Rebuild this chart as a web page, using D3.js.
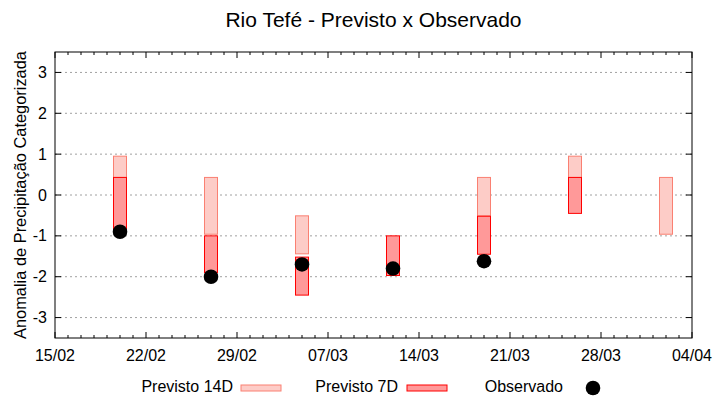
<!DOCTYPE html>
<html>
<head>
<meta charset="utf-8">
<script src="https://cdn.jsdelivr.net/npm/d3@7"></script>
<style>
  body { margin: 0; background: #fff; }
  text { font-family: "Liberation Sans", Arial, sans-serif; }
</style>
</head>
<body>
<div id="chart"></div>
<script>
// semanas com previsao / observacao
const dates = ["2024-02-20", "2024-02-27", "2024-03-05", "2024-03-12", "2024-03-19", "2024-03-26", "2024-04-02"];
const prev14Low  = [0.43, -0.96, -1.44, null, -0.51, 0.43, -0.96];
const prev14High = [0.95, 0.43, -0.51, null, 0.43, 0.95, 0.43];
const prev7Low   = [-0.9, -1.9, -2.45, -1.97, -1.45, -0.45, null];
const prev7High  = [0.43, -1.0, -1.52, -1.0, -0.52, 0.43, null];
const observed   = [-0.9, -2.0, -1.7, -1.8, -1.62, null, null];
const yTicks = [-3, -2, -1, 0, 1, 2, 3];
const xTickDates = ["2024-02-15", "2024-02-22", "2024-02-29", "2024-03-07", "2024-03-14", "2024-03-21", "2024-03-28", "2024-04-04"];

function drawChart() {
    const width = 720, height = 400;
    const margin = {top: 52, right: 28, bottom: 62, left: 55};
    const parse = d3.timeParse("%Y-%m-%d");
    const fmt = d3.timeFormat("%d/%m");

    const svg = d3.select("#chart").append("svg").attr("width", width).attr("height", height);

    const x = d3.scaleTime().domain([parse("2024-02-15"), parse("2024-04-04")]).range([margin.left, width - margin.right]);
    const y = d3.scaleLinear().domain([-3.5, 3.5]).range([height - margin.bottom, margin.top]);
    const x0 = margin.left, x1 = width - margin.right, y0 = height - margin.bottom, y1 = margin.top;

    // grid
    svg.append("g").selectAll("line").data(yTicks).join("line")
        .attr("x1", x0).attr("x2", x1).attr("y1", d => y(d)).attr("y2", d => y(d))
        .attr("stroke", "#a0a0a0").attr("stroke-dasharray", "2,3");

    const halfDay = 12 * 3600 * 1000;
    const boxes = (lo, hi, fill, stroke) => {
        const rows = dates.map((d, i) => ({t: parse(d), lo: lo[i], hi: hi[i]})).filter(r => r.lo !== null);
        svg.append("g").selectAll("rect").data(rows).join("rect")
            .attr("x", r => x(new Date(+r.t - halfDay)))
            .attr("width", r => x(new Date(+r.t + halfDay)) - x(new Date(+r.t - halfDay)))
            .attr("y", r => y(r.hi)).attr("height", r => y(r.lo) - y(r.hi))
            .attr("fill", fill).attr("stroke", stroke).attr("stroke-width", 1);
    };
    boxes(prev14Low, prev14High, "#fdccc7", "#fa8072");
    boxes(prev7Low, prev7High, "#ff9999", "#ff0000");

    const obs = dates.map((d, i) => ({t: parse(d), v: observed[i]})).filter(r => r.v !== null);
    svg.append("g").selectAll("circle").data(obs).join("circle")
        .attr("cx", r => x(r.t)).attr("cy", r => y(r.v)).attr("r", 7.3).attr("fill", "#000");

    // ticks (inward, mirrored)
    const days = d3.timeDay.range(parse("2024-02-15"), d3.timeDay.offset(parse("2024-04-04"), 1));
    const majors = xTickDates.map(parse);
    const isMajor = d => majors.some(m => +m === +d);
    const tk = svg.append("g").attr("stroke", "#000").attr("stroke-width", 1);
    days.forEach(d => {
        const len = isMajor(d) ? 6 : 3;
        tk.append("line").attr("x1", x(d)).attr("x2", x(d)).attr("y1", y0).attr("y2", y0 - len);
        tk.append("line").attr("x1", x(d)).attr("x2", x(d)).attr("y1", y1).attr("y2", y1 + len);
    });
    yTicks.forEach(v => {
        tk.append("line").attr("x1", x0).attr("x2", x0 + 6).attr("y1", y(v)).attr("y2", y(v));
        tk.append("line").attr("x1", x1).attr("x2", x1 - 6).attr("y1", y(v)).attr("y2", y(v));
    });

    svg.append("rect").attr("x", x0).attr("y", y1).attr("width", x1 - x0).attr("height", y0 - y1)
        .attr("fill", "none").attr("stroke", "#000").attr("stroke-width", 1);

    svg.append("g").selectAll("text").data(majors).join("text")
        .attr("x", d => x(d)).attr("y", y0 + 23).attr("text-anchor", "middle")
        .attr("font-size", 16).attr("fill", "#000").text(d => fmt(d));
    svg.append("g").selectAll("text").data(yTicks).join("text")
        .attr("x", x0 - 8).attr("y", d => y(d) + 5.5).attr("text-anchor", "end")
        .attr("font-size", 16).attr("fill", "#000").text(d => d);

    svg.append("text").attr("x", (x0 + x1) / 2).attr("y", 27).attr("text-anchor", "middle")
        .attr("font-size", 21).text("Rio Tefé - Previsto x Observado");
    svg.append("text").attr("transform", `translate(26,${(y0 + y1) / 2}) rotate(-90)`)
        .attr("text-anchor", "middle").attr("font-size", 16.4).text("Anomalia de Precipitação Categorizada");

    // legend
    const lg = svg.append("g");
    const legendItems = [
        {label: "Previsto 14D", textEnd: 233, type: "box", fill: "#fdccc7", stroke: "#fa8072", sx: 241},
        {label: "Previsto 7D", textEnd: 398, type: "box", fill: "#ff9999", stroke: "#ff0000", sx: 407},
        {label: "Observado", textEnd: 563, type: "dot", sx: 593}
    ];
    legendItems.forEach(it => {
        lg.append("text").attr("x", it.textEnd).attr("y", 392).attr("text-anchor", "end")
            .attr("font-size", 16).text(it.label);
        if (it.type === "box") {
            lg.append("rect").attr("x", it.sx).attr("y", 385).attr("width", 40).attr("height", 6)
                .attr("fill", it.fill).attr("stroke", it.stroke);
        } else {
            lg.append("circle").attr("cx", it.sx).attr("cy", 388).attr("r", 7.3).attr("fill", "#000");
        }
    });
}

document.addEventListener("DOMContentLoaded", () => {
    drawChart();
});
</script>
</body>
</html>
